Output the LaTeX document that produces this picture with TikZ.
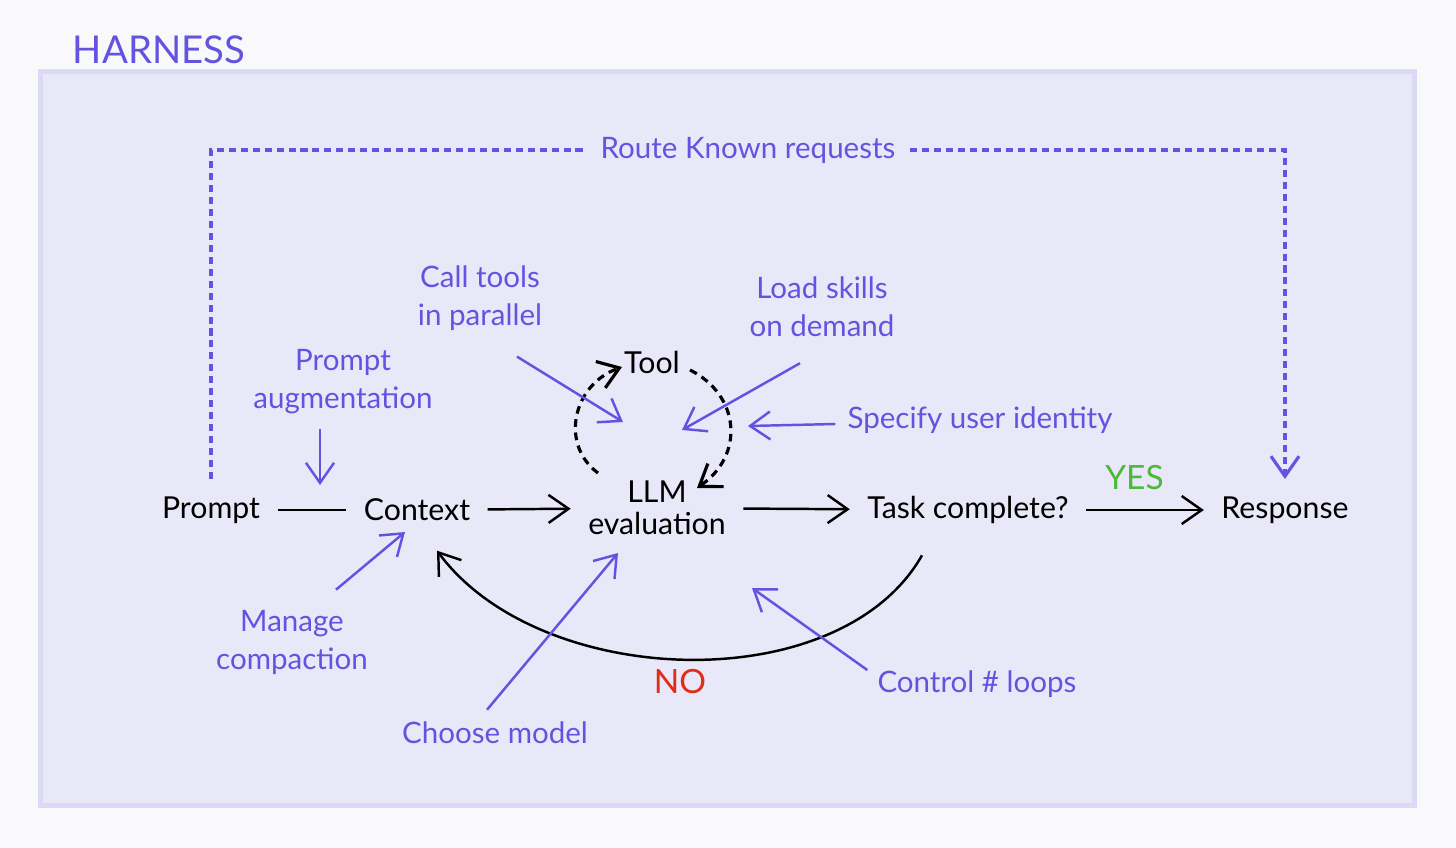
\documentclass[tikz,border=0pt]{standalone}
\usepackage{fontspec}
\setmainfont{Lato}
\usetikzlibrary{arrows.meta,positioning,calc}
\usepackage{xcolor}
\definecolor{pagebg}{HTML}{F9F9FB}
\definecolor{harnessfill}{HTML}{E8E8F8}
\definecolor{harnessedge}{HTML}{DADAF5}
\definecolor{annot}{HTML}{6453E0}
\definecolor{yesgreen}{HTML}{4DB83C}
\definecolor{nored}{HTML}{E32B17}

\begin{document}
\begin{tikzpicture}[
              font=\fontsize{8.4}{10}\selectfont,
              x=0.01cm,
              y=-0.01cm,
              >={Straight Barb[length=2mm,width=2.8mm]},
              term/.style={text=black, inner sep=1pt, outer sep=4pt, align=center, font=\fontsize{8.6}{9}\selectfont},
              note/.style={text=annot, inner sep=1pt, align=center, font=\fontsize{8.4}{10.8}\selectfont},
              flow/.style={->, line width=0.7pt, color=black},
              plain/.style={line width=0.7pt, color=black},
              hint/.style={->, line width=0.7pt, color=annot},
              toolloop/.style={->, line width=0.9pt, color=black, dash pattern=on 2.2pt off 1.6pt},
              route/.style={->, line width=0.9pt, color=annot, dash pattern=on 2pt off 1.4pt}
            ]
            % canvas and harness frame
            \fill[pagebg] (0,0) rectangle (1456,848);
            \useasboundingbox (0,0) rectangle (1456,848);
            \draw[harnessedge, line width=1.4pt, fill=harnessfill] (40.5,71.5) rectangle (1414.5,805.5);
            \node[text=annot, font=\fontsize{10.9}{13}\selectfont] (harness) at (159,50) {HARNESS};

            % main flow
            \node[term] (prompt) at (211,510) {Prompt};
            \node[term] (context) at (417,510) {Context};
            \node[term] (llm) at (657,508) {LLM\\evaluation};
            \node[term] (tool) at (652,362) {Tool};
            \node[term] (task) at (968,510) {Task complete?};
            \node[term] (response) at (1285,510) {Response};

            \draw[plain] (prompt) -- (context);
            \draw[flow] (context) -- (llm);
            \draw[flow] (llm) -- (task);
            \draw[flow] (task) -- node[above=2pt, xshift=-3pt, text=yesgreen, font=\fontsize{9.5}{12}\selectfont] (yes) {YES} (response);
            \draw[flow] ($(task.south)+(-46,14)$) .. controls (840,700) and (540,690) .. ($(context.south)+(20,12)$);
            \node[text=nored, font=\fontsize{9.5}{12}\selectfont] (no) at (680,682) {NO};

            % tool loop
            \draw[toolloop] ($(llm.center)+(-59,-35)$) .. controls (560,445) and (572,385) .. ($(tool.center)+(-30,5)$);
            \draw[toolloop] ($(tool.center)+(38,8)$) .. controls (740,395) and (745,455) .. ($(llm.center)+(40,-20)$);

            % route known requests
            \draw[route] (prompt.north) -- (prompt.north |- 0,150) -| node[pos=0.25, fill=harnessfill, note, inner sep=4pt] (routenote) {Route Known requests} (response.north);

            % harness annotations
            \node[note] (augment) at (343,382) {Prompt\\augmentation};
            \node[note] (callnote) at (480,298) {Call tools\\in parallel};
            \node[note] (loadnote) at (822,307) {Load skills\\on demand};
            \node[note] (identnote) at (980,420) {Specify user identity};
            \node[note] (compactnote) at (292,642) {Manage\\compaction};
            \node[note] (modelnote) at (495,733) {Choose model};
            \node[note] (loopsnote) at (977,684) {Control \# loops};

            \coordinate (augmenttip) at (320,485);
            \coordinate (calltip) at (623,422);
            \coordinate (loadtip) at (682,430);
            \coordinate (identtip) at (748,426);
            \coordinate (compacttip) at (405,532);
            \coordinate (modeltip) at (618,553);
            \coordinate (loopstip) at (752,588);

            \draw[hint] ([yshift=-3pt]augment.south -| augmenttip) -- (augmenttip);
            \draw[hint] ([shift={(37,22)}]callnote.south) -- (calltip);
            \draw[hint] ([shift={(-22,22)}]loadnote.south) -- (loadtip);
            \draw[hint] ([shift={(-8,4)}]identnote.west) -- (identtip);
            \draw[hint] ([shift={(44,-16)}]compactnote.north) -- (compacttip);
            \draw[hint] ([shift={(-8,-8)}]modelnote.north) -- (modeltip);
            \draw[hint] ([shift={(-6,-14)}]loopsnote.west) -- (loopstip);
            \end{tikzpicture}
\end{document}
